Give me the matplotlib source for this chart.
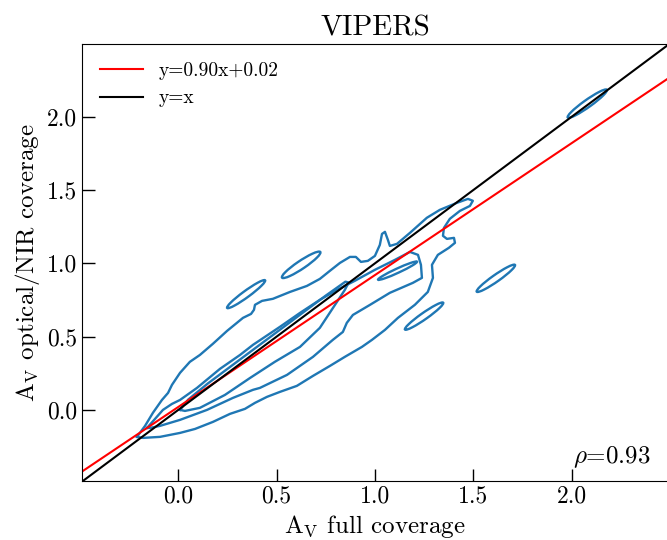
import numpy as np
import matplotlib
matplotlib.use('Agg')
import matplotlib.pyplot as plt
from matplotlib.patches import Ellipse

plt.rcParams['font.family'] = 'serif'
plt.rcParams['font.serif'] = ['cmr10']
plt.rcParams['mathtext.fontset'] = 'cm'
plt.rcParams['axes.unicode_minus'] = False

#---------------------- KDE contour paths (A_V full, A_V optical/NIR)
# outer level
a_x = [-0.210,-0.169,-0.129,-0.083,-0.052,-0.032,0.009,0.059,0.110,0.176,0.248,0.329,0.370,0.385,0.390,0.426,0.481,0.568,0.654,0.720,
       0.771,0.822,0.873,0.903,0.929,0.964,1.000,1.025,1.036,1.051,1.066,1.076,1.112,1.178,1.264,1.330,1.417,1.473,1.498,1.483,
       1.432,1.381,1.351,1.346,1.366,1.402,1.407,1.376,1.320,1.290,1.295,1.269,1.203,1.117,1.051,0.985,0.934,0.847,0.771,0.685,
       0.603,0.517,0.451,0.390,0.339,0.263,0.176,0.085,0.009,-0.093,-0.179,-0.210]
a_y = [-0.184,-0.109,-0.020,0.068,0.116,0.171,0.253,0.328,0.375,0.451,0.539,0.628,0.655,0.683,0.717,0.744,0.758,0.805,0.846,0.894,
       0.949,1.003,1.044,1.044,1.010,1.017,1.051,1.126,1.201,1.215,1.160,1.119,1.133,1.208,1.311,1.365,1.413,1.440,1.427,1.392,
       1.358,1.304,1.242,1.188,1.167,1.174,1.140,1.106,1.058,0.990,0.901,0.805,0.717,0.628,0.546,0.478,0.430,0.362,0.300,0.232,
       0.164,0.123,0.089,0.048,0.007,-0.027,-0.082,-0.130,-0.157,-0.184,-0.191,-0.184]
# middle level
b_x = [-0.159,-0.118,-0.078,-0.032,0.009,0.095,0.212,0.314,0.380,0.517,0.619,0.720,0.807,0.898,1.000,1.102,1.178,1.219,1.234,1.239,
       1.193,1.076,0.975,0.888,0.857,0.837,0.786,0.685,0.553,0.415,0.380,0.278,0.146,0.009,-0.093,-0.144,-0.159]
b_y = [-0.123,-0.061,0.000,0.041,0.068,0.150,0.280,0.375,0.444,0.567,0.662,0.751,0.819,0.881,0.956,1.024,1.078,1.058,0.990,0.901,
       0.867,0.799,0.717,0.648,0.594,0.532,0.478,0.362,0.239,0.150,0.137,0.082,0.000,-0.068,-0.109,-0.123,-0.123]
# inner level
c_x = [0.009,0.05,0.15,0.30,0.45,0.60,0.75,0.85,0.865,0.863,0.847,0.797,0.720,0.619,0.491,0.365,0.237,0.110,0.034,0.009]
c_y = [0.000,0.07,0.18,0.33,0.48,0.63,0.78,0.875,0.870,0.860,0.819,0.717,0.560,0.430,0.328,0.218,0.102,0.014,-0.007,0.000]

# isolated islands: centre x, centre y, length, width, angle
isl_x = [0.345, 0.625, 1.250, 1.615, 2.080, 1.115]
isl_y = [0.790, 0.990, 0.640, 0.898, 2.090, 0.950]
isl_len = [0.270, 0.262, 0.267, 0.267, 0.275, 0.233]
isl_wid = [0.040, 0.050, 0.040, 0.042, 0.045, 0.028]
isl_ang = [44.7, 42.5, 43.6, 43.6, 44.0, 32.0]

# fits
slope = 0.90
icpt = 0.02
rho = 0.93

lims_x = (-0.488, 2.49)
lims_y = (-0.485, 2.495)

#------------------------PLOTTING
fig = plt.figure(figsize=(6.67, 5.40), dpi=100)
ax = fig.add_axes([0.1234, 0.1093, 0.878, 0.8087])

kde_col = '#1f77b4'
for cx, cy in [(a_x, a_y), (b_x, b_y), (c_x, c_y)]:
    ax.plot(cx, cy, color=kde_col, lw=1.7, solid_joinstyle='round')

for i in range(len(isl_x)):
    el = Ellipse((isl_x[i], isl_y[i]), isl_len[i], isl_wid[i], angle=isl_ang[i],
                 fill=False, edgecolor=kde_col, lw=1.7)
    ax.add_patch(el)

xx = np.array(lims_x)
ax.plot(xx, slope*xx + icpt, color='red', lw=1.5, label='y=%.2fx+%.2f' % (slope, icpt))
ax.plot(xx, xx, color='black', lw=1.5, label='y=x')

ax.set_xlim(lims_x)
ax.set_ylim(lims_y)
ax.set_xticks([0.0, 0.5, 1.0, 1.5, 2.0])
ax.set_yticks([0.0, 0.5, 1.0, 1.5, 2.0])
ax.tick_params(direction='in', length=9, width=1, labelsize=17)

ax.set_xlabel(r'$\mathrm{A_V}$ full coverage', fontsize=18)
ax.set_ylabel(r'$\mathrm{A_V}$ optical/NIR coverage', fontsize=18)
ax.set_title('VIPERS', fontsize=21)
ax.text(0.971, 0.042, r'$\rho$=%.2f' % rho, transform=ax.transAxes,
        ha='right', va='baseline', fontsize=18)

ax.legend(loc='upper left', frameon=False, fontsize=14, handlelength=2.2)

plt.savefig('out.png', dpi=100)
